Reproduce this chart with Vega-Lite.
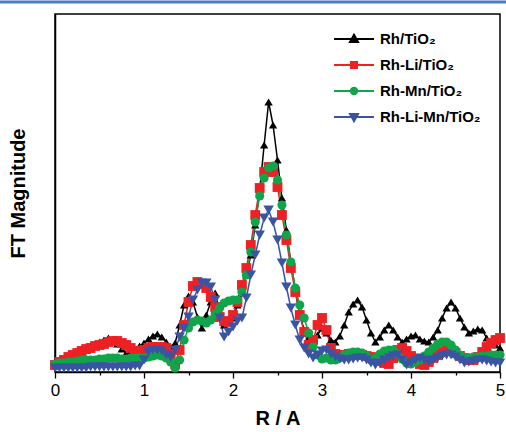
{
  "$schema": "https://vega.github.io/schema/vega-lite/v6.json",
  "width": 445,
  "height": 358,
  "autosize": "none",
  "padding": {"left": 55, "top": 14, "right": 6, "bottom": 60},
  "background": "#ffffff",
  "config": {
    "font": "Liberation Sans",
    "view": {"stroke": "#000000", "strokeWidth": 1.5},
    "axis": {"grid": false, "domainColor": "#000000", "domainWidth": 1.5, "tickColor": "#000000", "labelColor": "#000000", "titleColor": "#000000"},
    "legend": {
      "orient": "none",
      "legendX": 288,
      "legendY": 14,
      "padding": 0,
      "symbolSize": 400,
      "symbolStrokeWidth": 2,
      "labelFont": "Liberation Sans",
      "labelFontSize": 15,
      "labelFontWeight": "bold",
      "labelColor": "#000000",
      "labelOffset": 15,
      "rowPadding": 7
    }
  },
  "datasets": {
    "ft": [
      {"s":"Rh/TiO₂","r":0.00,"v":10},{"s":"Rh/TiO₂","r":0.05,"v":11},{"s":"Rh/TiO₂","r":0.10,"v":12},{"s":"Rh/TiO₂","r":0.15,"v":14},{"s":"Rh/TiO₂","r":0.20,"v":16},
      {"s":"Rh/TiO₂","r":0.25,"v":18},{"s":"Rh/TiO₂","r":0.30,"v":20},{"s":"Rh/TiO₂","r":0.35,"v":22},{"s":"Rh/TiO₂","r":0.40,"v":25},{"s":"Rh/TiO₂","r":0.45,"v":27},
      {"s":"Rh/TiO₂","r":0.50,"v":30},{"s":"Rh/TiO₂","r":0.55,"v":32},{"s":"Rh/TiO₂","r":0.60,"v":34},{"s":"Rh/TiO₂","r":0.65,"v":32},{"s":"Rh/TiO₂","r":0.70,"v":28},
      {"s":"Rh/TiO₂","r":0.75,"v":23},{"s":"Rh/TiO₂","r":0.80,"v":19},{"s":"Rh/TiO₂","r":0.85,"v":20},{"s":"Rh/TiO₂","r":0.90,"v":22},{"s":"Rh/TiO₂","r":0.95,"v":26},
      {"s":"Rh/TiO₂","r":1.00,"v":29},{"s":"Rh/TiO₂","r":1.05,"v":33},{"s":"Rh/TiO₂","r":1.10,"v":36},{"s":"Rh/TiO₂","r":1.15,"v":38},{"s":"Rh/TiO₂","r":1.20,"v":35},
      {"s":"Rh/TiO₂","r":1.25,"v":30},{"s":"Rh/TiO₂","r":1.30,"v":25},{"s":"Rh/TiO₂","r":1.35,"v":29},{"s":"Rh/TiO₂","r":1.40,"v":47},{"s":"Rh/TiO₂","r":1.45,"v":67},
      {"s":"Rh/TiO₂","r":1.50,"v":76},{"s":"Rh/TiO₂","r":1.55,"v":70},{"s":"Rh/TiO₂","r":1.60,"v":55},{"s":"Rh/TiO₂","r":1.65,"v":44},{"s":"Rh/TiO₂","r":1.70,"v":57},
      {"s":"Rh/TiO₂","r":1.75,"v":70},{"s":"Rh/TiO₂","r":1.80,"v":79},{"s":"Rh/TiO₂","r":1.85,"v":59},{"s":"Rh/TiO₂","r":1.90,"v":47},{"s":"Rh/TiO₂","r":1.95,"v":50},
      {"s":"Rh/TiO₂","r":2.00,"v":54},{"s":"Rh/TiO₂","r":2.05,"v":67},{"s":"Rh/TiO₂","r":2.10,"v":79},{"s":"Rh/TiO₂","r":2.15,"v":97},{"s":"Rh/TiO₂","r":2.20,"v":117},
      {"s":"Rh/TiO₂","r":2.25,"v":147},{"s":"Rh/TiO₂","r":2.30,"v":182},{"s":"Rh/TiO₂","r":2.35,"v":227},{"s":"Rh/TiO₂","r":2.40,"v":270},{"s":"Rh/TiO₂","r":2.45,"v":247},
      {"s":"Rh/TiO₂","r":2.50,"v":212},{"s":"Rh/TiO₂","r":2.55,"v":174},{"s":"Rh/TiO₂","r":2.60,"v":142},{"s":"Rh/TiO₂","r":2.65,"v":110},{"s":"Rh/TiO₂","r":2.70,"v":82},
      {"s":"Rh/TiO₂","r":2.75,"v":57},{"s":"Rh/TiO₂","r":2.80,"v":42},{"s":"Rh/TiO₂","r":2.85,"v":34},{"s":"Rh/TiO₂","r":2.90,"v":29},{"s":"Rh/TiO₂","r":2.95,"v":37},
      {"s":"Rh/TiO₂","r":3.00,"v":44},{"s":"Rh/TiO₂","r":3.05,"v":39},{"s":"Rh/TiO₂","r":3.10,"v":32},{"s":"Rh/TiO₂","r":3.15,"v":30},{"s":"Rh/TiO₂","r":3.20,"v":36},
      {"s":"Rh/TiO₂","r":3.25,"v":47},{"s":"Rh/TiO₂","r":3.30,"v":60},{"s":"Rh/TiO₂","r":3.35,"v":68},{"s":"Rh/TiO₂","r":3.40,"v":72},{"s":"Rh/TiO₂","r":3.45,"v":65},
      {"s":"Rh/TiO₂","r":3.50,"v":52},{"s":"Rh/TiO₂","r":3.55,"v":39},{"s":"Rh/TiO₂","r":3.60,"v":30},{"s":"Rh/TiO₂","r":3.65,"v":35},{"s":"Rh/TiO₂","r":3.70,"v":42},
      {"s":"Rh/TiO₂","r":3.75,"v":47},{"s":"Rh/TiO₂","r":3.80,"v":42},{"s":"Rh/TiO₂","r":3.85,"v":35},{"s":"Rh/TiO₂","r":3.90,"v":30},{"s":"Rh/TiO₂","r":3.95,"v":33},
      {"s":"Rh/TiO₂","r":4.00,"v":36},{"s":"Rh/TiO₂","r":4.05,"v":37},{"s":"Rh/TiO₂","r":4.10,"v":33},{"s":"Rh/TiO₂","r":4.15,"v":31},{"s":"Rh/TiO₂","r":4.20,"v":30},
      {"s":"Rh/TiO₂","r":4.25,"v":35},{"s":"Rh/TiO₂","r":4.30,"v":42},{"s":"Rh/TiO₂","r":4.35,"v":54},{"s":"Rh/TiO₂","r":4.40,"v":64},{"s":"Rh/TiO₂","r":4.45,"v":70},
      {"s":"Rh/TiO₂","r":4.50,"v":64},{"s":"Rh/TiO₂","r":4.55,"v":54},{"s":"Rh/TiO₂","r":4.60,"v":45},{"s":"Rh/TiO₂","r":4.65,"v":39},{"s":"Rh/TiO₂","r":4.70,"v":41},
      {"s":"Rh/TiO₂","r":4.75,"v":43},{"s":"Rh/TiO₂","r":4.80,"v":42},{"s":"Rh/TiO₂","r":4.85,"v":34},{"s":"Rh/TiO₂","r":4.90,"v":30},{"s":"Rh/TiO₂","r":4.95,"v":27},
      {"s":"Rh/TiO₂","r":5.00,"v":24},

      {"s":"Rh-Li/TiO₂","r":0.00,"v":7},{"s":"Rh-Li/TiO₂","r":0.05,"v":10},{"s":"Rh-Li/TiO₂","r":0.10,"v":12},{"s":"Rh-Li/TiO₂","r":0.15,"v":15},{"s":"Rh-Li/TiO₂","r":0.20,"v":17},
      {"s":"Rh-Li/TiO₂","r":0.25,"v":19},{"s":"Rh-Li/TiO₂","r":0.30,"v":21},{"s":"Rh-Li/TiO₂","r":0.35,"v":23},{"s":"Rh-Li/TiO₂","r":0.40,"v":24},{"s":"Rh-Li/TiO₂","r":0.45,"v":26},
      {"s":"Rh-Li/TiO₂","r":0.50,"v":27},{"s":"Rh-Li/TiO₂","r":0.55,"v":28},{"s":"Rh-Li/TiO₂","r":0.60,"v":30},{"s":"Rh-Li/TiO₂","r":0.65,"v":31},{"s":"Rh-Li/TiO₂","r":0.70,"v":31},
      {"s":"Rh-Li/TiO₂","r":0.75,"v":29},{"s":"Rh-Li/TiO₂","r":0.80,"v":27},{"s":"Rh-Li/TiO₂","r":0.85,"v":24},{"s":"Rh-Li/TiO₂","r":0.90,"v":21},{"s":"Rh-Li/TiO₂","r":0.95,"v":21},
      {"s":"Rh-Li/TiO₂","r":1.00,"v":22},{"s":"Rh-Li/TiO₂","r":1.05,"v":24},{"s":"Rh-Li/TiO₂","r":1.10,"v":25},{"s":"Rh-Li/TiO₂","r":1.15,"v":25},{"s":"Rh-Li/TiO₂","r":1.20,"v":25},
      {"s":"Rh-Li/TiO₂","r":1.25,"v":24},{"s":"Rh-Li/TiO₂","r":1.30,"v":18},{"s":"Rh-Li/TiO₂","r":1.35,"v":8},{"s":"Rh-Li/TiO₂","r":1.40,"v":22},{"s":"Rh-Li/TiO₂","r":1.45,"v":47},
      {"s":"Rh-Li/TiO₂","r":1.50,"v":70},{"s":"Rh-Li/TiO₂","r":1.55,"v":86},{"s":"Rh-Li/TiO₂","r":1.60,"v":90},{"s":"Rh-Li/TiO₂","r":1.65,"v":88},{"s":"Rh-Li/TiO₂","r":1.70,"v":84},
      {"s":"Rh-Li/TiO₂","r":1.75,"v":75},{"s":"Rh-Li/TiO₂","r":1.80,"v":65},{"s":"Rh-Li/TiO₂","r":1.85,"v":55},{"s":"Rh-Li/TiO₂","r":1.90,"v":51},{"s":"Rh-Li/TiO₂","r":1.95,"v":50},
      {"s":"Rh-Li/TiO₂","r":2.00,"v":57},{"s":"Rh-Li/TiO₂","r":2.05,"v":70},{"s":"Rh-Li/TiO₂","r":2.10,"v":87},{"s":"Rh-Li/TiO₂","r":2.15,"v":104},{"s":"Rh-Li/TiO₂","r":2.20,"v":127},
      {"s":"Rh-Li/TiO₂","r":2.25,"v":157},{"s":"Rh-Li/TiO₂","r":2.30,"v":184},{"s":"Rh-Li/TiO₂","r":2.35,"v":200},{"s":"Rh-Li/TiO₂","r":2.40,"v":205},{"s":"Rh-Li/TiO₂","r":2.45,"v":200},
      {"s":"Rh-Li/TiO₂","r":2.50,"v":185},{"s":"Rh-Li/TiO₂","r":2.55,"v":157},{"s":"Rh-Li/TiO₂","r":2.60,"v":132},{"s":"Rh-Li/TiO₂","r":2.65,"v":104},{"s":"Rh-Li/TiO₂","r":2.70,"v":80},
      {"s":"Rh-Li/TiO₂","r":2.75,"v":57},{"s":"Rh-Li/TiO₂","r":2.80,"v":40},{"s":"Rh-Li/TiO₂","r":2.85,"v":27},{"s":"Rh-Li/TiO₂","r":2.90,"v":32},{"s":"Rh-Li/TiO₂","r":2.95,"v":47},
      {"s":"Rh-Li/TiO₂","r":3.00,"v":54},{"s":"Rh-Li/TiO₂","r":3.05,"v":42},{"s":"Rh-Li/TiO₂","r":3.10,"v":24},{"s":"Rh-Li/TiO₂","r":3.15,"v":18},{"s":"Rh-Li/TiO₂","r":3.20,"v":17},
      {"s":"Rh-Li/TiO₂","r":3.25,"v":17},{"s":"Rh-Li/TiO₂","r":3.30,"v":18},{"s":"Rh-Li/TiO₂","r":3.35,"v":18},{"s":"Rh-Li/TiO₂","r":3.40,"v":17},{"s":"Rh-Li/TiO₂","r":3.45,"v":17},
      {"s":"Rh-Li/TiO₂","r":3.50,"v":16},{"s":"Rh-Li/TiO₂","r":3.55,"v":15},{"s":"Rh-Li/TiO₂","r":3.60,"v":13},{"s":"Rh-Li/TiO₂","r":3.65,"v":11},{"s":"Rh-Li/TiO₂","r":3.70,"v":9},
      {"s":"Rh-Li/TiO₂","r":3.75,"v":8},{"s":"Rh-Li/TiO₂","r":3.80,"v":14},{"s":"Rh-Li/TiO₂","r":3.85,"v":22},{"s":"Rh-Li/TiO₂","r":3.90,"v":24},{"s":"Rh-Li/TiO₂","r":3.95,"v":21},
      {"s":"Rh-Li/TiO₂","r":4.00,"v":16},{"s":"Rh-Li/TiO₂","r":4.05,"v":11},{"s":"Rh-Li/TiO₂","r":4.10,"v":8},{"s":"Rh-Li/TiO₂","r":4.15,"v":7},{"s":"Rh-Li/TiO₂","r":4.20,"v":10},
      {"s":"Rh-Li/TiO₂","r":4.25,"v":14},{"s":"Rh-Li/TiO₂","r":4.30,"v":17},{"s":"Rh-Li/TiO₂","r":4.35,"v":20},{"s":"Rh-Li/TiO₂","r":4.40,"v":22},{"s":"Rh-Li/TiO₂","r":4.45,"v":22},
      {"s":"Rh-Li/TiO₂","r":4.50,"v":19},{"s":"Rh-Li/TiO₂","r":4.55,"v":16},{"s":"Rh-Li/TiO₂","r":4.60,"v":14},{"s":"Rh-Li/TiO₂","r":4.65,"v":12},{"s":"Rh-Li/TiO₂","r":4.70,"v":12},
      {"s":"Rh-Li/TiO₂","r":4.75,"v":15},{"s":"Rh-Li/TiO₂","r":4.80,"v":20},{"s":"Rh-Li/TiO₂","r":4.85,"v":25},{"s":"Rh-Li/TiO₂","r":4.90,"v":29},{"s":"Rh-Li/TiO₂","r":4.95,"v":32},
      {"s":"Rh-Li/TiO₂","r":5.00,"v":34},

      {"s":"Rh-Mn/TiO₂","r":0.00,"v":8},{"s":"Rh-Mn/TiO₂","r":0.05,"v":9},{"s":"Rh-Mn/TiO₂","r":0.10,"v":9},{"s":"Rh-Mn/TiO₂","r":0.15,"v":10},{"s":"Rh-Mn/TiO₂","r":0.20,"v":10},
      {"s":"Rh-Mn/TiO₂","r":0.25,"v":11},{"s":"Rh-Mn/TiO₂","r":0.30,"v":12},{"s":"Rh-Mn/TiO₂","r":0.35,"v":12},{"s":"Rh-Mn/TiO₂","r":0.40,"v":12},{"s":"Rh-Mn/TiO₂","r":0.45,"v":12},
      {"s":"Rh-Mn/TiO₂","r":0.50,"v":13},{"s":"Rh-Mn/TiO₂","r":0.55,"v":13},{"s":"Rh-Mn/TiO₂","r":0.60,"v":14},{"s":"Rh-Mn/TiO₂","r":0.65,"v":14},{"s":"Rh-Mn/TiO₂","r":0.70,"v":14},
      {"s":"Rh-Mn/TiO₂","r":0.75,"v":13},{"s":"Rh-Mn/TiO₂","r":0.80,"v":13},{"s":"Rh-Mn/TiO₂","r":0.85,"v":14},{"s":"Rh-Mn/TiO₂","r":0.90,"v":14},{"s":"Rh-Mn/TiO₂","r":0.95,"v":14},
      {"s":"Rh-Mn/TiO₂","r":1.00,"v":14},{"s":"Rh-Mn/TiO₂","r":1.05,"v":15},{"s":"Rh-Mn/TiO₂","r":1.10,"v":16},{"s":"Rh-Mn/TiO₂","r":1.15,"v":17},{"s":"Rh-Mn/TiO₂","r":1.20,"v":16},
      {"s":"Rh-Mn/TiO₂","r":1.25,"v":14},{"s":"Rh-Mn/TiO₂","r":1.30,"v":10},{"s":"Rh-Mn/TiO₂","r":1.35,"v":4},{"s":"Rh-Mn/TiO₂","r":1.40,"v":12},{"s":"Rh-Mn/TiO₂","r":1.45,"v":32},
      {"s":"Rh-Mn/TiO₂","r":1.50,"v":44},{"s":"Rh-Mn/TiO₂","r":1.55,"v":50},{"s":"Rh-Mn/TiO₂","r":1.60,"v":52},{"s":"Rh-Mn/TiO₂","r":1.65,"v":51},{"s":"Rh-Mn/TiO₂","r":1.70,"v":49},
      {"s":"Rh-Mn/TiO₂","r":1.75,"v":52},{"s":"Rh-Mn/TiO₂","r":1.80,"v":58},{"s":"Rh-Mn/TiO₂","r":1.85,"v":64},{"s":"Rh-Mn/TiO₂","r":1.90,"v":69},{"s":"Rh-Mn/TiO₂","r":1.95,"v":71},
      {"s":"Rh-Mn/TiO₂","r":2.00,"v":72},{"s":"Rh-Mn/TiO₂","r":2.05,"v":72},{"s":"Rh-Mn/TiO₂","r":2.10,"v":80},{"s":"Rh-Mn/TiO₂","r":2.15,"v":97},{"s":"Rh-Mn/TiO₂","r":2.20,"v":120},
      {"s":"Rh-Mn/TiO₂","r":2.25,"v":150},{"s":"Rh-Mn/TiO₂","r":2.30,"v":176},{"s":"Rh-Mn/TiO₂","r":2.35,"v":194},{"s":"Rh-Mn/TiO₂","r":2.40,"v":204},{"s":"Rh-Mn/TiO₂","r":2.45,"v":206},
      {"s":"Rh-Mn/TiO₂","r":2.50,"v":192},{"s":"Rh-Mn/TiO₂","r":2.55,"v":167},{"s":"Rh-Mn/TiO₂","r":2.60,"v":137},{"s":"Rh-Mn/TiO₂","r":2.65,"v":110},{"s":"Rh-Mn/TiO₂","r":2.70,"v":84},
      {"s":"Rh-Mn/TiO₂","r":2.75,"v":67},{"s":"Rh-Mn/TiO₂","r":2.80,"v":54},{"s":"Rh-Mn/TiO₂","r":2.85,"v":39},{"s":"Rh-Mn/TiO₂","r":2.90,"v":25},{"s":"Rh-Mn/TiO₂","r":2.95,"v":17},
      {"s":"Rh-Mn/TiO₂","r":3.00,"v":13},{"s":"Rh-Mn/TiO₂","r":3.05,"v":14},{"s":"Rh-Mn/TiO₂","r":3.10,"v":12},{"s":"Rh-Mn/TiO₂","r":3.15,"v":12},{"s":"Rh-Mn/TiO₂","r":3.20,"v":14},
      {"s":"Rh-Mn/TiO₂","r":3.25,"v":17},{"s":"Rh-Mn/TiO₂","r":3.30,"v":19},{"s":"Rh-Mn/TiO₂","r":3.35,"v":20},{"s":"Rh-Mn/TiO₂","r":3.40,"v":20},{"s":"Rh-Mn/TiO₂","r":3.45,"v":19},
      {"s":"Rh-Mn/TiO₂","r":3.50,"v":16},{"s":"Rh-Mn/TiO₂","r":3.55,"v":12},{"s":"Rh-Mn/TiO₂","r":3.60,"v":14},{"s":"Rh-Mn/TiO₂","r":3.65,"v":18},{"s":"Rh-Mn/TiO₂","r":3.70,"v":21},
      {"s":"Rh-Mn/TiO₂","r":3.75,"v":22},{"s":"Rh-Mn/TiO₂","r":3.80,"v":22},{"s":"Rh-Mn/TiO₂","r":3.85,"v":18},{"s":"Rh-Mn/TiO₂","r":3.90,"v":13},{"s":"Rh-Mn/TiO₂","r":3.95,"v":9},
      {"s":"Rh-Mn/TiO₂","r":4.00,"v":8},{"s":"Rh-Mn/TiO₂","r":4.05,"v":10},{"s":"Rh-Mn/TiO₂","r":4.10,"v":12},{"s":"Rh-Mn/TiO₂","r":4.15,"v":16},{"s":"Rh-Mn/TiO₂","r":4.20,"v":20},
      {"s":"Rh-Mn/TiO₂","r":4.25,"v":24},{"s":"Rh-Mn/TiO₂","r":4.30,"v":28},{"s":"Rh-Mn/TiO₂","r":4.35,"v":30},{"s":"Rh-Mn/TiO₂","r":4.40,"v":30},{"s":"Rh-Mn/TiO₂","r":4.45,"v":27},
      {"s":"Rh-Mn/TiO₂","r":4.50,"v":22},{"s":"Rh-Mn/TiO₂","r":4.55,"v":17},{"s":"Rh-Mn/TiO₂","r":4.60,"v":14},{"s":"Rh-Mn/TiO₂","r":4.65,"v":14},{"s":"Rh-Mn/TiO₂","r":4.70,"v":15},
      {"s":"Rh-Mn/TiO₂","r":4.75,"v":15},{"s":"Rh-Mn/TiO₂","r":4.80,"v":16},{"s":"Rh-Mn/TiO₂","r":4.85,"v":16},{"s":"Rh-Mn/TiO₂","r":4.90,"v":17},{"s":"Rh-Mn/TiO₂","r":4.95,"v":17},
      {"s":"Rh-Mn/TiO₂","r":5.00,"v":17},

      {"s":"Rh-Li-Mn/TiO₂","r":0.00,"v":4},{"s":"Rh-Li-Mn/TiO₂","r":0.05,"v":4},{"s":"Rh-Li-Mn/TiO₂","r":0.10,"v":4},{"s":"Rh-Li-Mn/TiO₂","r":0.15,"v":4},{"s":"Rh-Li-Mn/TiO₂","r":0.20,"v":4},
      {"s":"Rh-Li-Mn/TiO₂","r":0.25,"v":4},{"s":"Rh-Li-Mn/TiO₂","r":0.30,"v":4},{"s":"Rh-Li-Mn/TiO₂","r":0.35,"v":4},{"s":"Rh-Li-Mn/TiO₂","r":0.40,"v":5},{"s":"Rh-Li-Mn/TiO₂","r":0.45,"v":5},
      {"s":"Rh-Li-Mn/TiO₂","r":0.50,"v":5},{"s":"Rh-Li-Mn/TiO₂","r":0.55,"v":5},{"s":"Rh-Li-Mn/TiO₂","r":0.60,"v":5},{"s":"Rh-Li-Mn/TiO₂","r":0.65,"v":5},{"s":"Rh-Li-Mn/TiO₂","r":0.70,"v":5},
      {"s":"Rh-Li-Mn/TiO₂","r":0.75,"v":5},{"s":"Rh-Li-Mn/TiO₂","r":0.80,"v":5},{"s":"Rh-Li-Mn/TiO₂","r":0.85,"v":5},{"s":"Rh-Li-Mn/TiO₂","r":0.90,"v":6},{"s":"Rh-Li-Mn/TiO₂","r":0.95,"v":6},
      {"s":"Rh-Li-Mn/TiO₂","r":1.00,"v":12},{"s":"Rh-Li-Mn/TiO₂","r":1.05,"v":20},{"s":"Rh-Li-Mn/TiO₂","r":1.10,"v":22},{"s":"Rh-Li-Mn/TiO₂","r":1.15,"v":22},{"s":"Rh-Li-Mn/TiO₂","r":1.20,"v":21},
      {"s":"Rh-Li-Mn/TiO₂","r":1.25,"v":17},{"s":"Rh-Li-Mn/TiO₂","r":1.30,"v":15},{"s":"Rh-Li-Mn/TiO₂","r":1.35,"v":22},{"s":"Rh-Li-Mn/TiO₂","r":1.40,"v":35},{"s":"Rh-Li-Mn/TiO₂","r":1.45,"v":44},
      {"s":"Rh-Li-Mn/TiO₂","r":1.50,"v":55},{"s":"Rh-Li-Mn/TiO₂","r":1.55,"v":72},{"s":"Rh-Li-Mn/TiO₂","r":1.60,"v":82},{"s":"Rh-Li-Mn/TiO₂","r":1.65,"v":89},{"s":"Rh-Li-Mn/TiO₂","r":1.70,"v":89},
      {"s":"Rh-Li-Mn/TiO₂","r":1.75,"v":85},{"s":"Rh-Li-Mn/TiO₂","r":1.80,"v":72},{"s":"Rh-Li-Mn/TiO₂","r":1.85,"v":54},{"s":"Rh-Li-Mn/TiO₂","r":1.90,"v":35},{"s":"Rh-Li-Mn/TiO₂","r":1.95,"v":40},
      {"s":"Rh-Li-Mn/TiO₂","r":2.00,"v":45},{"s":"Rh-Li-Mn/TiO₂","r":2.05,"v":51},{"s":"Rh-Li-Mn/TiO₂","r":2.10,"v":54},{"s":"Rh-Li-Mn/TiO₂","r":2.15,"v":74},{"s":"Rh-Li-Mn/TiO₂","r":2.20,"v":97},
      {"s":"Rh-Li-Mn/TiO₂","r":2.25,"v":117},{"s":"Rh-Li-Mn/TiO₂","r":2.30,"v":137},{"s":"Rh-Li-Mn/TiO₂","r":2.35,"v":154},{"s":"Rh-Li-Mn/TiO₂","r":2.40,"v":162},{"s":"Rh-Li-Mn/TiO₂","r":2.45,"v":150},
      {"s":"Rh-Li-Mn/TiO₂","r":2.50,"v":132},{"s":"Rh-Li-Mn/TiO₂","r":2.55,"v":109},{"s":"Rh-Li-Mn/TiO₂","r":2.60,"v":85},{"s":"Rh-Li-Mn/TiO₂","r":2.65,"v":64},{"s":"Rh-Li-Mn/TiO₂","r":2.70,"v":47},
      {"s":"Rh-Li-Mn/TiO₂","r":2.75,"v":32},{"s":"Rh-Li-Mn/TiO₂","r":2.80,"v":24},{"s":"Rh-Li-Mn/TiO₂","r":2.85,"v":18},{"s":"Rh-Li-Mn/TiO₂","r":2.90,"v":14},{"s":"Rh-Li-Mn/TiO₂","r":2.95,"v":17},
      {"s":"Rh-Li-Mn/TiO₂","r":3.00,"v":21},{"s":"Rh-Li-Mn/TiO₂","r":3.05,"v":22},{"s":"Rh-Li-Mn/TiO₂","r":3.10,"v":18},{"s":"Rh-Li-Mn/TiO₂","r":3.15,"v":15},{"s":"Rh-Li-Mn/TiO₂","r":3.20,"v":13},
      {"s":"Rh-Li-Mn/TiO₂","r":3.25,"v":12},{"s":"Rh-Li-Mn/TiO₂","r":3.30,"v":12},{"s":"Rh-Li-Mn/TiO₂","r":3.35,"v":13},{"s":"Rh-Li-Mn/TiO₂","r":3.40,"v":14},{"s":"Rh-Li-Mn/TiO₂","r":3.45,"v":14},
      {"s":"Rh-Li-Mn/TiO₂","r":3.50,"v":12},{"s":"Rh-Li-Mn/TiO₂","r":3.55,"v":9},{"s":"Rh-Li-Mn/TiO₂","r":3.60,"v":7},{"s":"Rh-Li-Mn/TiO₂","r":3.65,"v":9},{"s":"Rh-Li-Mn/TiO₂","r":3.70,"v":12},
      {"s":"Rh-Li-Mn/TiO₂","r":3.75,"v":14},{"s":"Rh-Li-Mn/TiO₂","r":3.80,"v":16},{"s":"Rh-Li-Mn/TiO₂","r":3.85,"v":17},{"s":"Rh-Li-Mn/TiO₂","r":3.90,"v":12},{"s":"Rh-Li-Mn/TiO₂","r":3.95,"v":7},
      {"s":"Rh-Li-Mn/TiO₂","r":4.00,"v":9},{"s":"Rh-Li-Mn/TiO₂","r":4.05,"v":12},{"s":"Rh-Li-Mn/TiO₂","r":4.10,"v":14},{"s":"Rh-Li-Mn/TiO₂","r":4.15,"v":12},{"s":"Rh-Li-Mn/TiO₂","r":4.20,"v":10},
      {"s":"Rh-Li-Mn/TiO₂","r":4.25,"v":12},{"s":"Rh-Li-Mn/TiO₂","r":4.30,"v":14},{"s":"Rh-Li-Mn/TiO₂","r":4.35,"v":16},{"s":"Rh-Li-Mn/TiO₂","r":4.40,"v":17},{"s":"Rh-Li-Mn/TiO₂","r":4.45,"v":17},
      {"s":"Rh-Li-Mn/TiO₂","r":4.50,"v":15},{"s":"Rh-Li-Mn/TiO₂","r":4.55,"v":12},{"s":"Rh-Li-Mn/TiO₂","r":4.60,"v":9},{"s":"Rh-Li-Mn/TiO₂","r":4.65,"v":10},{"s":"Rh-Li-Mn/TiO₂","r":4.70,"v":11},
      {"s":"Rh-Li-Mn/TiO₂","r":4.75,"v":12},{"s":"Rh-Li-Mn/TiO₂","r":4.80,"v":12},{"s":"Rh-Li-Mn/TiO₂","r":4.85,"v":11},{"s":"Rh-Li-Mn/TiO₂","r":4.90,"v":10},{"s":"Rh-Li-Mn/TiO₂","r":4.95,"v":9},
      {"s":"Rh-Li-Mn/TiO₂","r":5.00,"v":9}
    ],
    "edge": [{"line": "top"}]
  },
  "layer": [
    {
      "data": {"name": "ft"},
      "mark": {"type": "line", "strokeWidth": 1.5},
      "encoding": {
        "x": {
          "field": "r",
          "type": "quantitative",
          "scale": {"domain": [0, 5], "nice": false, "zero": false},
          "axis": {
            "title": "R / A",
            "titleFontSize": 20,
            "titleFontWeight": "bold",
            "titlePadding": 10,
            "values": [0, 0.5, 1, 1.5, 2, 2.5, 3, 3.5, 4, 4.5, 5],
            "labelExpr": "datum.value % 1 === 0 ? format(datum.value, 'd') : ''",
            "labelFontSize": 17,
            "labelPadding": 4,
            "labelFlush": false,
            "tickSize": {"condition": {"test": "datum.value % 1 !== 0", "value": 3}, "value": 6},
            "tickWidth": 1.3
          }
        },
        "y": {
          "field": "v",
          "type": "quantitative",
          "scale": {"domain": [0, 358], "nice": false},
          "axis": {
            "title": "FT Magnitude",
            "titleFontSize": 20,
            "titleFontWeight": "bold",
            "titlePadding": 27,
            "labels": false,
            "ticks": false
          }
        },
        "color": {
          "field": "s",
          "type": "nominal",
          "scale": {
            "domain": ["Rh/TiO₂", "Rh-Li/TiO₂", "Rh-Mn/TiO₂", "Rh-Li-Mn/TiO₂"],
            "range": ["#000000", "#ed2024", "#10a54a", "#3a54a4"]
          },
          "legend": {
            "title": null,
            "encode": {
              "symbols": {
                "update": {
                  "shape": {"signal": "['M-2,0H2M0,-0.42L0.4,0.3L-0.4,0.3Z','M-2,0H2M-0.3,-0.3H0.3V0.3H-0.3Z','M-2,0H2M0.32,0A0.32,0.32 0 1,1 -0.32,0A0.32,0.32 0 1,1 0.32,0Z','M-2,0H2M0,0.42L0.4,-0.3L-0.4,-0.3Z'][indexof(['Rh/TiO₂','Rh-Li/TiO₂','Rh-Mn/TiO₂','Rh-Li-Mn/TiO₂'], datum.value)]"},
                  "size": {"value": 400},
                  "fill": {"signal": "scale('color', datum.value)"},
                  "stroke": {"signal": "scale('color', datum.value)"},
                  "strokeWidth": {"value": 2},
                  "opacity": {"value": 1}
                }
              }
            }
          }
        }
      }
    },
    {
      "data": {"name": "ft"},
      "mark": {"type": "point", "filled": true, "opacity": 1},
      "encoding": {
        "x": {"field": "r", "type": "quantitative"},
        "y": {"field": "v", "type": "quantitative"},
        "color": {"field": "s", "type": "nominal"},
        "shape": {
          "field": "s",
          "type": "nominal",
          "scale": {"range": ["triangle-down", "square", "circle", "triangle-up"]},
          "legend": null
        },
        "size": {
          "field": "s",
          "type": "nominal",
          "scale": {"range": [110, 70, 80, 110]},
          "legend": null
        }
      }
    },
    {
      "data": {"name": "edge"},
      "mark": {"type": "rule", "clip": false, "color": "#4a7ebf", "strokeWidth": 3},
      "encoding": {
        "x": {"datum": -0.62, "type": "quantitative"},
        "x2": {"datum": 5.07},
        "y": {"datum": 370, "type": "quantitative"}
      }
    }
  ]
}
